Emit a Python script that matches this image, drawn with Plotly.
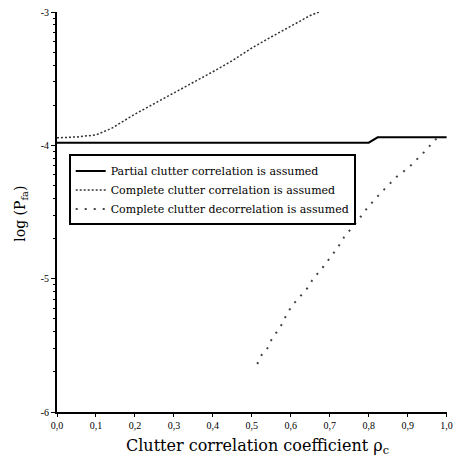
import numpy as np
import plotly.graph_objects as go

# ---- data (y values are log10 of P_fa) ----
partial_x = [0.0, 0.80, 0.823, 1.0]
partial_y = [-3.98, -3.98, -3.94, -3.94]

complete_x = [0.0, 0.05, 0.10, 0.141, 0.20, 0.25, 0.30, 0.35, 0.40, 0.45, 0.50, 0.55, 0.60, 0.65, 0.672]
complete_y = [-3.944, -3.937, -3.922, -3.871, -3.766, -3.687, -3.612, -3.528, -3.448, -3.365,
              -3.270, -3.187, -3.108, -3.026, -3.0]

decor_x = [0.514, 0.525, 0.538, 0.55, 0.576, 0.593, 0.609, 0.643, 0.657, 0.681, 0.706, 0.722,
           0.737, 0.752, 0.773, 0.798, 0.833, 0.871, 0.904, 0.942, 0.975, 0.98]
decor_y = [-5.64, -5.573, -5.535, -5.46, -5.348, -5.248, -5.183, -5.07, -5.003, -4.92, -4.823,
           -4.76, -4.688, -4.636, -4.561, -4.463, -4.351, -4.238, -4.163, -4.051, -3.946, -3.93]

x_ticks = [0.0, 0.1, 0.2, 0.3, 0.4, 0.5, 0.6, 0.7, 0.8, 0.9, 1.0]
x_ticktext = ["0,0", "0,1", "0,2", "0,3", "0,4", "0,5", "0,6", "0,7", "0,8", "0,9", "1,0"]
y_ticks = [-6, -5, -4, -3]
y_ticktext = ["-6", "-5", "-4", "-3"]
y_minor = [n + np.log10(k) for n in (-6, -5, -4) for k in range(2, 10)]

serif = "Liberation Serif"
wide = "DejaVu Serif"

fig = go.Figure()
fig.add_trace(go.Scatter(x=partial_x, y=partial_y, mode="lines",
                         line=dict(color="black", width=2),
                         name="Partial clutter correlation is assumed"))
fig.add_trace(go.Scatter(x=complete_x, y=complete_y, mode="lines",
                         line=dict(color="#333333", width=1.5, dash="2px,2px"),
                         name="Complete clutter correlation is assumed"))
fig.add_trace(go.Scatter(x=decor_x, y=decor_y, mode="lines",
                         line=dict(color="#444444", width=2, dash="2px,7px"),
                         name="Complete clutter decorrelation is assumed"))

fig.update_layout(
    width=459, height=459,
    margin=dict(l=57, r=6, t=10, b=47),
    paper_bgcolor="white", plot_bgcolor="white",
    font=dict(family=serif, color="black"),
    showlegend=True,
    legend=dict(x=0.03, y=0.644, xanchor="left", yanchor="top",
                bordercolor="black", borderwidth=2, bgcolor="white",
                font=dict(family=wide, size=11), tracegroupgap=0),
    xaxis=dict(range=[0, 1.001], showgrid=False, zeroline=False,
               showline=True, linecolor="black", linewidth=2,
               tickmode="array", tickvals=x_ticks, ticktext=x_ticktext,
               ticks="outside", ticklen=3, tickcolor="black", tickwidth=1,
               ticklabeloverflow="allow",
               tickfont=dict(family=serif, size=10)),
    yaxis=dict(range=[-6, -3], showgrid=False, zeroline=False,
               showline=True, linecolor="black", linewidth=2,
               tickmode="array", tickvals=y_ticks, ticktext=y_ticktext,
               ticks="outside", ticklen=4, tickcolor="black", tickwidth=1,
               tickfont=dict(family=serif, size=10),
               minor=dict(tickmode="array", tickvals=y_minor, ticks="outside",
                          ticklen=2, tickcolor="black", tickwidth=1)),
    annotations=[
        dict(text="Clutter correlation coefficient ρ<sub>c</sub>", xref="paper", yref="paper",
             x=0.515, y=-0.085, xanchor="center", yanchor="middle", showarrow=False,
             font=dict(family=wide, size=16)),
        dict(text="log (P<sub>fa</sub>)", xref="paper", yref="paper",
             x=-0.093, y=0.495, xanchor="center", yanchor="middle", showarrow=False,
             textangle=-90, font=dict(family=wide, size=14)),
    ],
)

fig.write_html("out.html")
